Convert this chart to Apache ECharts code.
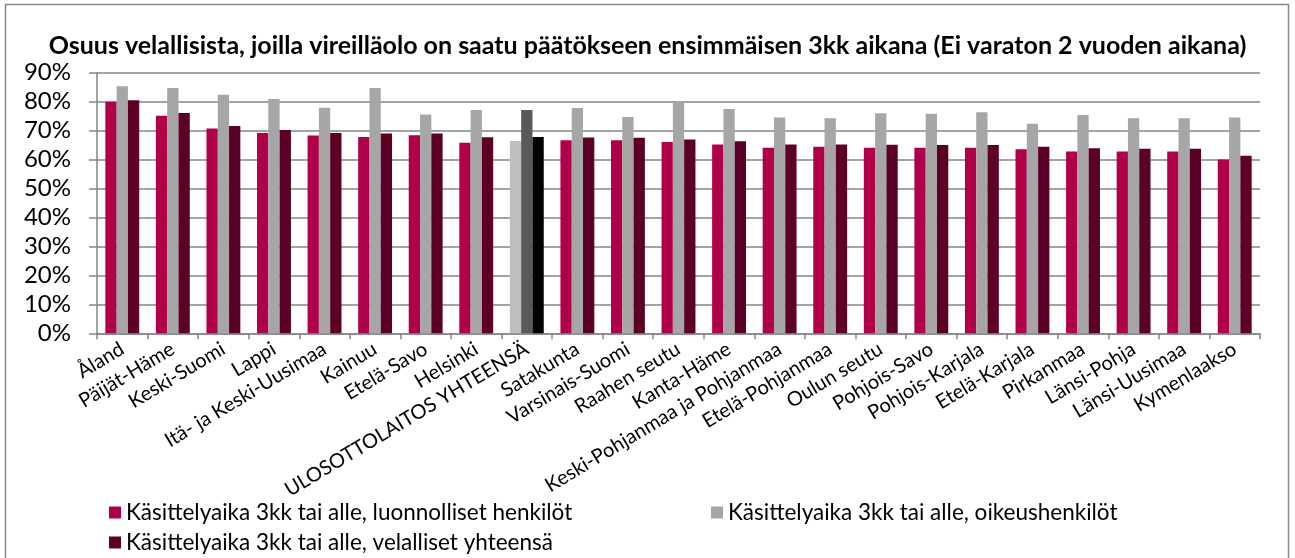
<!DOCTYPE html>
<html>
<head>
<meta charset="utf-8">
<script src="https://cdn.jsdelivr.net/npm/echarts@6/dist/echarts.min.js"></script>
<style>
  html, body { margin: 0; padding: 0; background: #fff; }
  #chart { width: 1295px; height: 558px; }
</style>
</head>
<body>
<div id="chart"></div>
<script>
// Regions (ulosottopiirit) and the office total
const categories = [
  'Åland', 'Päijät-Häme', 'Keski-Suomi', 'Lappi', 'Itä- ja Keski-Uusimaa', 'Kainuu',
  'Etelä-Savo', 'Helsinki', 'ULOSOTTOLAITOS YHTEENSÄ', 'Satakunta', 'Varsinais-Suomi',
  'Raahen seutu', 'Kanta-Häme', 'Keski-Pohjanmaa ja Pohjanmaa', 'Etelä-Pohjanmaa',
  'Oulun seutu', 'Pohjois-Savo', 'Pohjois-Karjala', 'Etelä-Karjala', 'Pirkanmaa',
  'Länsi-Pohja', 'Länsi-Uusimaa', 'Kymenlaakso'
];

// Share (%) of debtors whose case was closed within 3 months
const natural = [80.0, 75.1, 70.7, 69.2, 68.3, 67.8, 68.4, 65.8, 66.4, 66.7, 66.7,
  66.1, 65.2, 64.1, 64.4, 64.1, 64.1, 64.1, 63.6, 62.8, 62.8, 62.8, 60.0];
const legal = [85.3, 84.7, 82.4, 80.9, 77.9, 84.7, 75.6, 77.1, 77.1, 77.8, 74.7,
  79.7, 77.5, 74.5, 74.3, 76.0, 75.8, 76.3, 72.4, 75.4, 74.3, 74.3, 74.5];
const total = [80.5, 76.1, 71.6, 70.2, 69.2, 69.0, 69.0, 67.7, 67.8, 67.6, 67.5,
  66.9, 66.3, 65.2, 65.2, 65.1, 65.0, 65.0, 64.4, 63.9, 63.7, 63.7, 61.3];

const seriesNames = [
  'Käsittelyaika 3kk tai alle, luonnolliset henkilöt',
  'Käsittelyaika 3kk tai alle, oikeushenkilöt',
  'Käsittelyaika 3kk tai alle, velalliset yhteensä'
];
const yTicks = [0, 10, 20, 30, 40, 50, 60, 70, 80, 90];

const colors = ['#B0004A', '#A6A6A6', '#5C0025'];
// The office-wide total is drawn in neutral tones
const totalColors = ['#BFBFBF', '#595959', '#000000'];
const totalName = 'ULOSOTTOLAITOS YHTEENSÄ';

const FONT = 'Lato, "Open Sans", sans-serif';

function barData(values, idx) {
  return values.map((v, i) => categories[i] === totalName
    ? { value: v, itemStyle: { color: totalColors[idx] } }
    : v);
}

const chart = echarts.init(document.getElementById('chart'), null, { renderer: 'canvas' });

const legendBase = {
  orient: 'horizontal',
  itemWidth: 12,
  itemHeight: 12,
  itemGap: 10,
  icon: 'rect',
  textStyle: { fontFamily: FONT, fontSize: 22.5, color: '#000' }
};

chart.setOption({
  animation: false,
  backgroundColor: '#fff',
  title: {
    text: 'Osuus velallisista, joilla vireilläolo on saatu päätökseen ensimmäisen 3kk aikana (Ei varaton 2 vuoden aikana)',
    left: 'center',
    top: 28,
    textStyle: { fontFamily: FONT, fontSize: 25, fontWeight: 'bold', color: '#000' }
  },
  legend: [
    Object.assign({}, legendBase, { data: [seriesNames[0]], left: 104, top: 496 }),
    Object.assign({}, legendBase, { data: [seriesNames[1]], left: 706, top: 496 }),
    Object.assign({}, legendBase, { data: [seriesNames[2]], left: 104, top: 526 })
  ],
  grid: { left: 97, right: 35, top: 72.7, bottom: 224.7, containLabel: false },
  xAxis: {
    type: 'category',
    data: categories,
    axisLine: { lineStyle: { color: '#868686', width: 1.5 } },
    axisTick: { show: true, length: 6, lineStyle: { color: '#868686', width: 1.5 } },
    axisLabel: {
      interval: 0,
      rotate: 31,
      margin: 14,
      fontFamily: FONT,
      fontSize: 20,
      color: '#000'
    }
  },
  yAxis: {
    type: 'value',
    min: yTicks[0],
    max: yTicks[yTicks.length - 1],
    interval: 10,
    axisLine: { show: true, lineStyle: { color: '#868686', width: 1.5 } },
    axisTick: { show: true, inside: false, length: 8, lineStyle: { color: '#868686', width: 1.5 } },
    splitLine: { lineStyle: { color: '#868686', width: 1.5 } },
    axisLabel: {
      formatter: '{value}%',
      margin: 26,
      fontFamily: FONT,
      fontSize: 24,
      color: '#000'
    }
  },
  series: seriesNames.map((name, idx) => ({
    name: name,
    type: 'bar',
    data: barData([natural, legal, total][idx], idx),
    itemStyle: { color: colors[idx] },
    barGap: '0%',
    barCategoryGap: '33%'
  })),
  graphic: [{
    type: 'rect',
    shape: { x: 5.5, y: 4.5, width: 1283, height: 570 },
    style: { fill: null, stroke: '#8a8a8a', lineWidth: 1.5 },
    silent: true
  }]
});
</script>
</body>
</html>
